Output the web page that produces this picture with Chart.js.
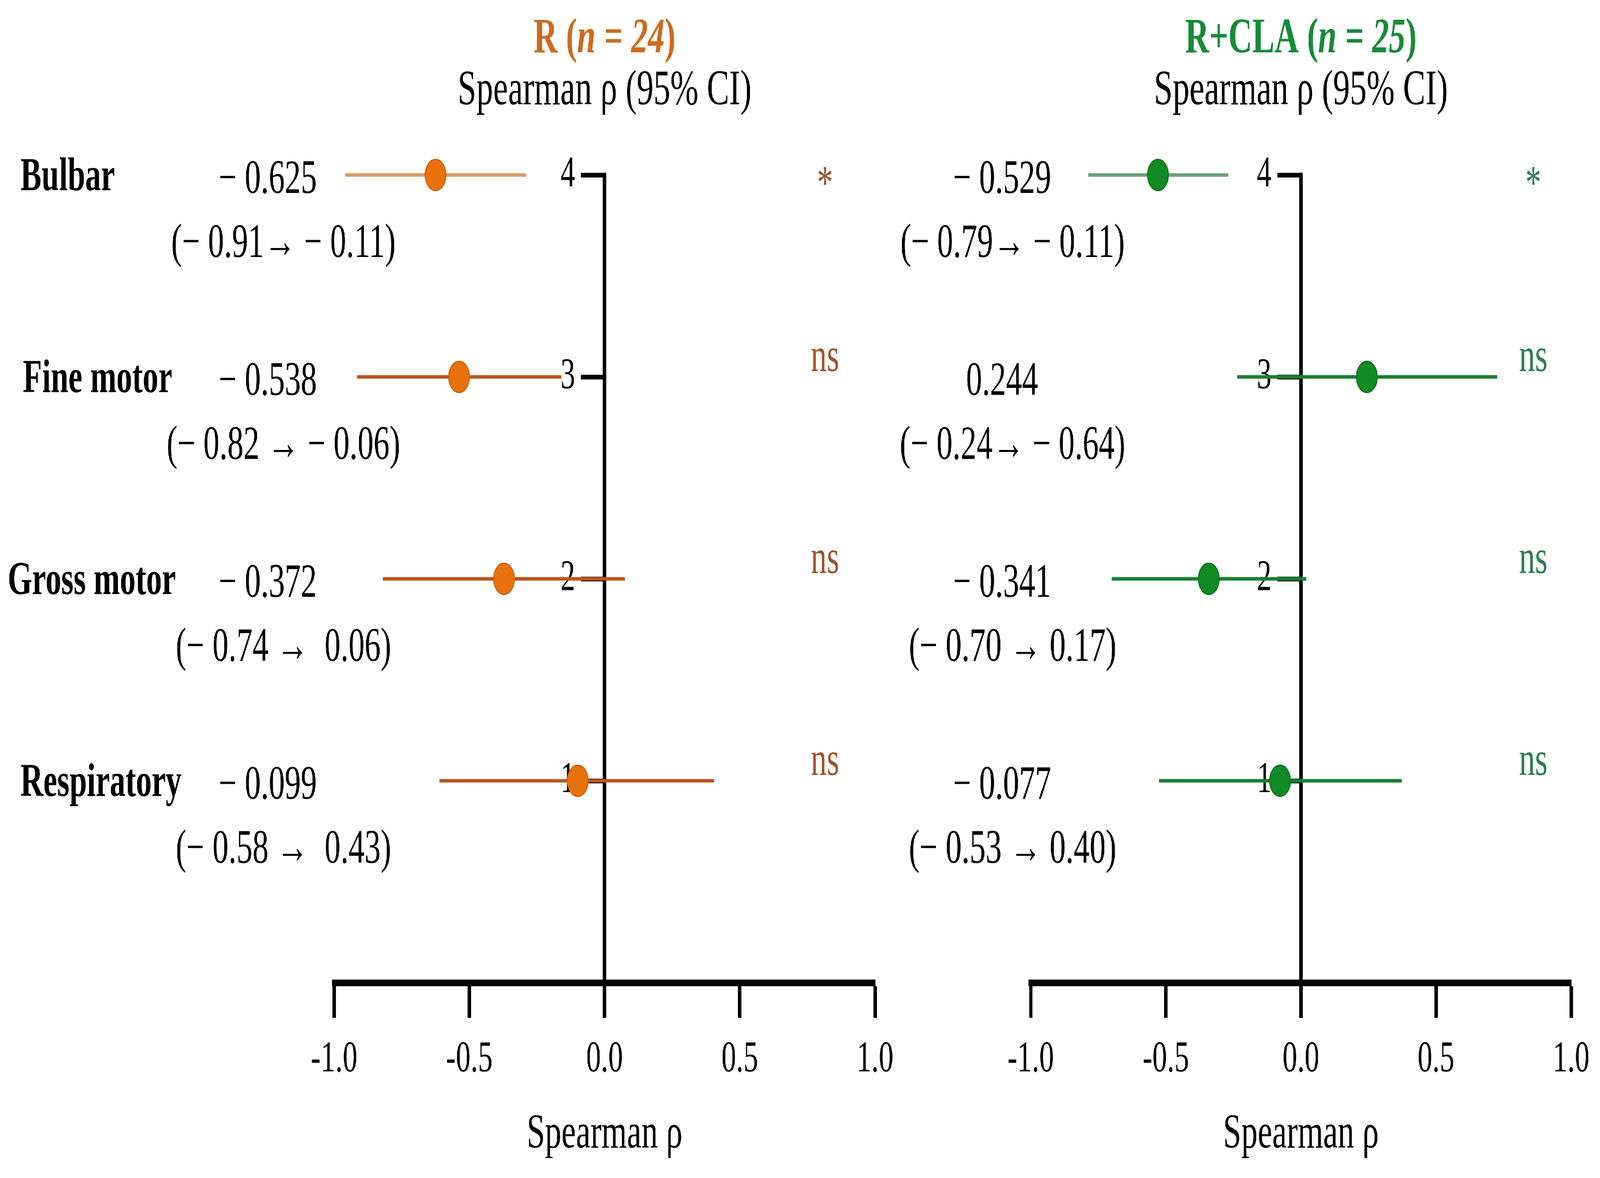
<!DOCTYPE html>
<html>
<head>
<meta charset="utf-8">
<script src="https://cdn.jsdelivr.net/npm/chart.js@4.4.1/dist/chart.umd.min.js"></script>
<style>
html, body { margin: 0; padding: 0; width: 100%; height: 100%; background: #fff; overflow: hidden; }
#stage { position: fixed; left: 0; top: 0; width: 100vw; height: 100vh; overflow: hidden; background: #fff; }
#wrap { position: absolute; left: 0; top: 0; width: 6096px; height: 3016px; transform-origin: 0 0; }
canvas { position: absolute; left: 0; top: 0; width: 6096px; height: 3016px; }
</style>
</head>
<body>
<div id="stage">
  <div id="wrap">
    <canvas id="chartR" width="6096" height="3016"></canvas>
    <canvas id="chartCLA" width="6096" height="3016"></canvas>
  </div>
</div>
<script>
// data
const categories = ['Bulbar', 'Fine motor', 'Gross motor', 'Respiratory'];
const rowPos = [4, 3, 2, 1];
const xTicks = [-1, -0.5, 0, 0.5, 1];
const yTicks = [1, 2, 3, 4];

const rRho  = [-0.625, -0.538, -0.372, -0.099];
const rLow  = [-0.96, -0.915, -0.82, -0.61];
const rHigh = [-0.29, -0.16, 0.075, 0.405];
const rValueLabels = ['\u2212 0.625', '\u2212 0.538', '\u2212 0.372', '\u2212 0.099'];
const rCiLabels = ['(\u2212 0.91\u2192 \u2212 0.11)', '(\u2212 0.82 \u2192 \u2212 0.06)', '(\u2212 0.74 \u2192  0.06)', '(\u2212 0.58 \u2192  0.43)'];
const rSig = ['*', 'ns', 'ns', 'ns'];

const claRho  = [-0.529, 0.244, -0.341, -0.077];
const claLow  = [-0.787, -0.236, -0.70, -0.526];
const claHigh = [-0.269, 0.726, 0.02, 0.373];
const claValueLabels = ['\u2212 0.529', '0.244', '\u2212 0.341', '\u2212 0.077'];
const claCiLabels = ['(\u2212 0.79\u2192 \u2212 0.11)', '(\u2212 0.24\u2192 \u2212 0.64)', '(\u2212 0.70 \u2192 0.17)', '(\u2212 0.53 \u2192 0.40)'];
const claSig = ['*', 'ns', 'ns', 'ns'];

// the drawing is laid out on a 6096 x 3016 board and stretched onto the window
const W = 6096, H = 3016;
const sx = window.innerWidth / W, sy = window.innerHeight / H;
document.getElementById('wrap').style.transform = 'scale(' + sx + ',' + sy + ')';

const SERIF = '"Liberation Serif", "Times New Roman", serif';
Chart.defaults.font.family = SERIF;
Chart.defaults.color = '#000';

function makeDatasets(rho, low, high, lineColors, pointColor, pointBorder) {
    const sets = [{
        label: 'rho',
        data: rho.map((v, i) => ({x: v, y: rowPos[i]})),
        pointRadius: 40,
        pointBackgroundColor: pointColor,
        pointBorderColor: pointBorder,
        pointBorderWidth: 3,
        order: 0,
        clip: false
    }];
    for (let i = 0; i < low.length; i++) {
        sets.push({
            label: 'ci' + i,
            data: [{x: low[i], y: rowPos[i]}, {x: high[i], y: rowPos[i]}],
            showLine: true,
            borderColor: lineColors[i],
            borderWidth: 9,
            pointRadius: 0,
            order: 1,
            clip: false
        });
    }
    return sets;
}

function drawRuns(ctx, runs, cx, y) {
    let total = 0;
    runs.forEach(r => { ctx.font = r.font; total += ctx.measureText(r.text).width; });
    let x = cx - total / 2;
    ctx.textAlign = 'left';
    runs.forEach(r => {
        ctx.font = r.font;
        ctx.fillText(r.text, x, y);
        x += ctx.measureText(r.text).width;
    });
}

const panelText = {
    id: 'panelText',
    afterDraw(chart, args, opts) {
        const ctx = chart.ctx;
        const xs = chart.scales.x, ys = chart.scales.y;
        const cx = xs.getPixelForValue(0);
        ctx.save();
        ctx.textBaseline = 'middle';

        ctx.fillStyle = opts.titleColor;
        drawRuns(ctx, [
            {text: opts.group + ' (', font: 'bold 127px ' + SERIF},
            {text: 'n = ' + opts.n, font: 'italic bold 127px ' + SERIF},
            {text: ')', font: 'bold 127px ' + SERIF}
        ], cx, 101);

        ctx.fillStyle = '#000';
        ctx.textAlign = 'center';
        ctx.font = '128px ' + SERIF;
        ctx.fillText('Spearman \u03c1 (95% CI)', cx, 233);

        for (let i = 0; i < rowPos.length; i++) {
            const y = ys.getPixelForValue(rowPos[i]);
            ctx.fillStyle = '#000';
            ctx.font = '122px ' + SERIF;
            ctx.textAlign = 'center';
            ctx.fillText(opts.values[i], opts.valueX, y + 14);
            ctx.fillText(opts.cis[i], opts.ciX, y + 178);

            if (opts.cats) {
                ctx.font = 'bold 120px ' + SERIF;
                ctx.textAlign = 'left';
                ctx.fillText(opts.cats[i], opts.catX[i], y + 8);
            }

            const px = xs.getPixelForValue(opts.sigX);
            ctx.fillStyle = opts.sigColor;
            ctx.textAlign = 'center';
            ctx.font = '122px ' + SERIF;
            if (opts.sig[i] === '*') {
                ctx.fillText('*', px, y + 28);
            } else {
                ctx.fillText(opts.sig[i], px, y - 47);
            }
        }
        ctx.restore();
    }
};

function panelOptions(padLeft, padRight, text) {
    return {
        responsive: false,
        animation: false,
        devicePixelRatio: 1,
        layout: { padding: { left: padLeft, right: padRight, top: 448, bottom: 0 } },
        plugins: {
            legend: { display: false },
            tooltip: { enabled: false },
            panelText: text
        },
        scales: {
            x: {
                type: 'linear',
                position: 'bottom',
                min: -1,
                max: 1,
                afterFit: s => { s.height = 500; },
                afterBuildTicks: s => { s.ticks = xTicks.map(v => ({value: v})); },
                ticks: {
                    callback: v => v.toFixed(1),
                    font: { size: 112 },
                    color: '#000',
                    padding: 40,
                    maxRotation: 0
                },
                grid: {
                    drawOnChartArea: false,
                    drawTicks: true,
                    tickLength: 90,
                    tickWidth: 13,
                    tickColor: '#000'
                },
                border: { color: '#000', width: 17 },
                title: {
                    display: true,
                    text: 'Spearman \u03c1',
                    font: { size: 125 },
                    color: '#000',
                    padding: { top: 0, bottom: 36 }
                }
            },
            y: {
                type: 'linear',
                position: { x: 0 },
                min: 0,
                max: 4,
                afterBuildTicks: s => { s.ticks = yTicks.map(v => ({value: v})); },
                ticks: {
                    // an axis placed at x = 0 sets its labels flush on the line, so pad them with two en spaces
                    callback: v => String(v) + '\u2002\u2002',
                    font: { size: 112 },
                    color: '#000'
                },
                grid: {
                    drawOnChartArea: false,
                    drawTicks: true,
                    tickLength: 84,
                    tickWidth: 12,
                    tickColor: '#000'
                },
                border: { color: '#000', width: 13 }
            }
        }
    };
}

new Chart(document.getElementById('chartR').getContext('2d'), {
    type: 'scatter',
    data: {
        datasets: makeDatasets(rRho, rLow, rHigh,
            ['#D99A68', '#B8561C', '#B8561C', '#B8561C'], '#E8710E', '#C95F0A')
    },
    options: panelOptions(1273, W - 3334, {
        group: 'R', n: '24', titleColor: '#CF6A1E',
        values: rValueLabels, cis: rCiLabels, cats: categories,
        catX: [78, 87, 29, 78],
        valueX: 1020, ciX: 1080,
        sig: rSig, sigX: 0.815, sigColor: '#A0522D'
    }),
    plugins: [panelText]
});

new Chart(document.getElementById('chartCLA').getContext('2d'), {
    type: 'scatter',
    data: {
        datasets: makeDatasets(claRho, claLow, claHigh,
            ['#6E9E7A', '#14802C', '#14802C', '#14802C'], '#108A22', '#0A6E18')
    },
    options: panelOptions(3927, W - 5989, {
        group: 'R+CLA', n: '25', titleColor: '#178A3A',
        values: claValueLabels, cis: claCiLabels, cats: null,
        valueX: 3818, ciX: 3858,
        sig: claSig, sigX: 0.86, sigColor: '#2E7D55'
    }),
    plugins: [panelText]
});
</script>
</body>
</html>
